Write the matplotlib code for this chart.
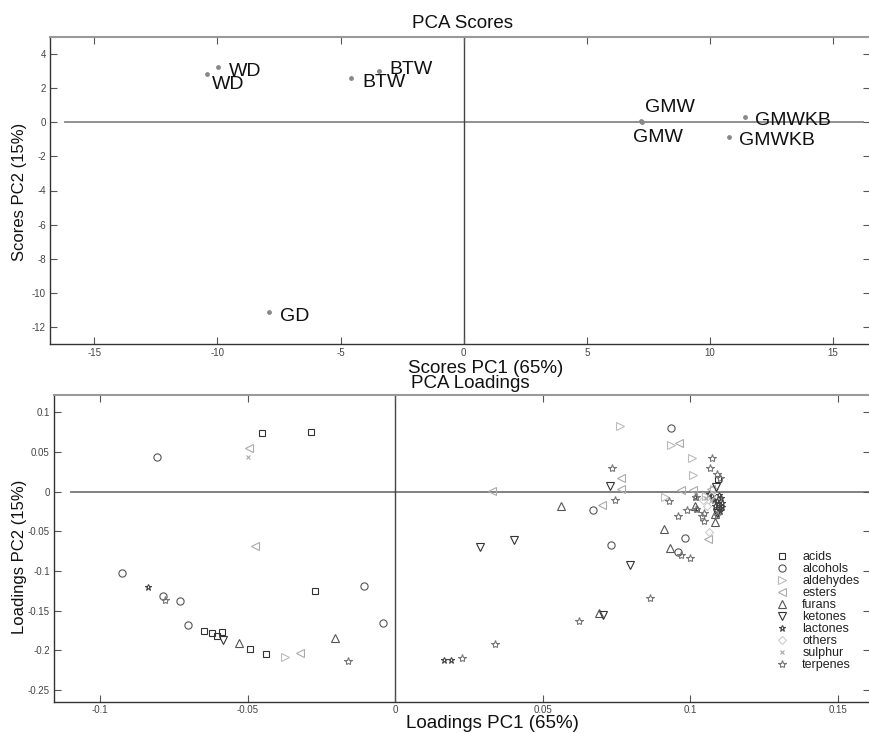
import matplotlib
matplotlib.use("Agg")
import matplotlib.pyplot as plt

plt.rcParams['font.family'] = ['Liberation Sans', 'DejaVu Sans']
plt.rcParams['axes.unicode_minus'] = False

# ---- scores (PC1, PC2) ----
score_names = ["WD", "WD", "BTW", "BTW", "GD", "GMW", "GMW", "GMWKB", "GMWKB"]
score_pc1 = [-10.44, -9.97, -4.56, -3.42, -7.89, 7.21, 7.25, 11.41, 10.77]
score_pc2 = [2.81, 3.23, 2.57, 2.98, -11.15, 0.06, 0.04, 0.33, -0.84]
# where each label was written (PC1, PC2)
label_pc1 = [-10.24, -9.54, -4.13, -3.0, -7.45, 6.87, 7.35, 11.85, 11.2]
label_pc2 = [2.2, 2.98, 2.34, 3.1, -11.38, -0.9, 0.86, 0.08, -1.05]

# ---- loadings by compound class ----
acids_x = [-0.045, -0.0286, -0.0271, -0.0646, -0.062, -0.0605, -0.0585, -0.0492, -0.0436, 0.1095]
acids_y = [0.074, 0.0748, -0.1248, -0.1756, -0.1786, -0.1825, -0.1765, -0.1987, -0.2043, 0.016]
alcohols_x = [-0.0807, -0.0926, -0.0787, -0.073, -0.0702, -0.0105, -0.004, 0.0936, 0.067, 0.0732, 0.0982, 0.0958]
alcohols_y = [0.0436, -0.102, -0.1316, -0.1376, -0.1688, -0.1184, -0.1658, 0.0799, -0.0235, -0.067, -0.0581, -0.0756]
aldehydes_x = [-0.0373, 0.0761, 0.0936, 0.1007, 0.101, 0.0916, 0.1055, 0.108]
aldehydes_y = [-0.209, 0.0825, 0.0594, 0.0419, 0.0205, -0.0064, -0.005, 0.004]
esters_x = [-0.0496, -0.0476, -0.0321, 0.0327, 0.0765, 0.0765, 0.0701, 0.0964, 0.097, 0.101, 0.106, 0.107]
esters_y = [0.0556, -0.068, -0.2034, 0.0013, 0.0167, 0.003, -0.0162, 0.062, 0.0017, 0.0017, -0.0598, 0.0035]
furans_x = [-0.053, -0.0205, 0.0562, 0.0913, 0.0933, 0.0693, 0.1016, 0.1084, 0.1086]
furans_y = [-0.1915, -0.1846, -0.0184, -0.047, -0.0705, -0.1526, -0.018, -0.0385, -0.028]
ketones_x = [-0.0583, 0.0287, 0.0402, 0.0727, 0.0795, 0.0706, 0.1087, 0.1092]
ketones_y = [-0.1872, -0.0692, -0.0607, 0.0077, -0.0919, -0.156, 0.0064, -0.0265]
lactones_x = [-0.0838, 0.0165, 0.019, 0.1075, 0.108, 0.109, 0.1095, 0.11, 0.1105,
              0.111, 0.1085, 0.11, 0.1065, 0.1018, 0.1025, 0.1098, 0.1108]
lactones_y = [-0.1197, -0.2125, -0.2125, -0.005, -0.01, -0.012, -0.016, -0.02, -0.008,
              -0.014, -0.018, -0.024, -0.003, -0.0064, -0.022, -0.004, -0.019]
others_x = [0.1063, 0.1058, 0.1045, 0.107]
others_y = [-0.0504, -0.018, -0.01, -0.005]
sulphur_x = [-0.05, 0.1055, 0.107]
sulphur_y = [0.0436, -0.008, -0.012]
terpenes_x = [-0.078, -0.0161, 0.0227, 0.0338, 0.0623, 0.0863, 0.0737, 0.0746, 0.0929, 0.0959,
              0.0989, 0.0969, 0.1, 0.1076, 0.1069, 0.1092, 0.1101, 0.1047, 0.1047, 0.1041,
              0.1021, 0.1019, 0.1092]
terpenes_y = [-0.1363, -0.2132, -0.2103, -0.1923, -0.1637, -0.1346, 0.0299, -0.0107, -0.012, -0.0303,
              -0.0226, -0.0795, -0.0833, 0.0427, 0.0299, 0.0227, 0.017, -0.0265, -0.0376, -0.0312,
              -0.0214, -0.0064, -0.03]

classes = [
    ("acids", acids_x, acids_y, "s", "#333333", 4.8),
    ("alcohols", alcohols_x, alcohols_y, "o", "#555555", 5.2),
    ("aldehydes", aldehydes_x, aldehydes_y, ">", "#bbbbbb", 5.8),
    ("esters", esters_x, esters_y, "<", "#aaaaaa", 5.8),
    ("furans", furans_x, furans_y, "^", "#555555", 5.8),
    ("ketones", ketones_x, ketones_y, "v", "#333333", 5.8),
    ("lactones", lactones_x, lactones_y, "*", "#444444", 4.5),
    ("others", others_x, others_y, "D", "#cccccc", 4),
    ("sulphur", sulphur_x, sulphur_y, "x", "#aaaaaa", 3.5),
    ("terpenes", terpenes_x, terpenes_y, "*", "#777777", 6),
]


def style_axes(ax):
    ax.tick_params(direction="in", length=5, width=0.8, colors="#555555",
                   labelsize=7, top=True, right=True, pad=3)
    ax.tick_params(axis="both", labelcolor="#444444")
    for side in ("left", "bottom"):
        ax.spines[side].set_color("#333333")
        ax.spines[side].set_linewidth(1.0)
    ax.spines["top"].set_color("#999999")
    ax.spines["top"].set_linewidth(1.5)
    ax.spines["right"].set_color("#999999")


fig = plt.figure(figsize=(8.7, 7.33), dpi=100)

# scores plot
ax1 = fig.add_axes([50 / 870, 1 - 344 / 733, 820 / 870, 307 / 733])
ax1.set_xlim(-16.8, 16.5)
ax1.set_ylim(-13, 5)
ax1.plot([-16.2, 16.2], [0, 0], color="#888888", lw=1.3, zorder=1)
ax1.axvline(0, color="#444444", lw=1.0, zorder=1)
ax1.scatter(score_pc1, score_pc2, s=6, color="#888888", zorder=3)
for name, lx, ly in zip(score_names, label_pc1, label_pc2):
    ax1.text(lx, ly, name, fontsize=14, ha="left", va="center", color="#111111")
ax1.set_xticks([-15, -10, -5, 0, 5, 10, 15])
ax1.set_yticks([4, 2, 0, -2, -4, -6, -8, -10, -12])
style_axes(ax1)

# loadings plot
ax2 = fig.add_axes([54 / 870, 1 - 702 / 733, 816 / 870, 307 / 733])
ax2.set_xlim(-0.1156, 0.161)
ax2.set_ylim(-0.2654, 0.122)
ax2.plot([-0.110, 0.1605], [0, 0], color="#777777", lw=1.3, zorder=1)
ax2.axvline(0, color="#444444", lw=1.0, zorder=1)
for name, xs, ys, mk, col, ms in classes:
    ax2.plot(xs, ys, linestyle="none", marker=mk, markersize=ms,
             markerfacecolor="none", markeredgecolor=col,
             markeredgewidth=0.8, label=name, zorder=3)
ax2.set_xticks([-0.1, -0.05, 0, 0.05, 0.1, 0.15])
ax2.set_xticklabels(["-0.1", "-0.05", "0", "0.05", "0.1", "0.15"])
ax2.set_yticks([0.1, 0.05, 0, -0.05, -0.1, -0.15, -0.2, -0.25])
ax2.set_yticklabels(["0.1", "0.05", "0", "-0.05", "-0.1", "-0.15", "-0.2", "-0.25"])
style_axes(ax2)
ax2.tick_params(axis="x", pad=2)

leg = ax2.legend(loc="upper left", bbox_to_anchor=(776 / 870, 1 - 551 / 733),
                 bbox_transform=fig.transFigure, frameon=False, fontsize=9,
                 handlelength=1.0, handletextpad=1.1, labelspacing=0.0,
                 borderpad=0, borderaxespad=0)
for t in leg.get_texts():
    t.set_color("#222222")

# titles and axis labels
fig.text(463 / 870, 1 - 23 / 733, "PCA Scores", fontsize=13.5, ha="center", va="center", color="#111111")
fig.text(408 / 870, 1 - 368 / 733, "Scores PC1 (65%)", fontsize=13.5, ha="left", va="center", color="#111111")
fig.text(411 / 870, 1 - 384 / 733, "PCA Loadings", fontsize=13.5, ha="left", va="center", color="#111111")
fig.text(406 / 870, 1 - 723 / 733, "Loadings PC1 (65%)", fontsize=13.5, ha="left", va="center", color="#111111")
fig.text(20 / 870, 1 - 192 / 733, "Scores PC2 (15%)", fontsize=12, rotation=90,
         ha="center", va="center", color="#111111")
fig.text(20 / 870, 1 - 557 / 733, "Loadings PC2 (15%)", fontsize=12, rotation=90,
         ha="center", va="center", color="#111111")

fig.savefig("out.png", dpi=100)
